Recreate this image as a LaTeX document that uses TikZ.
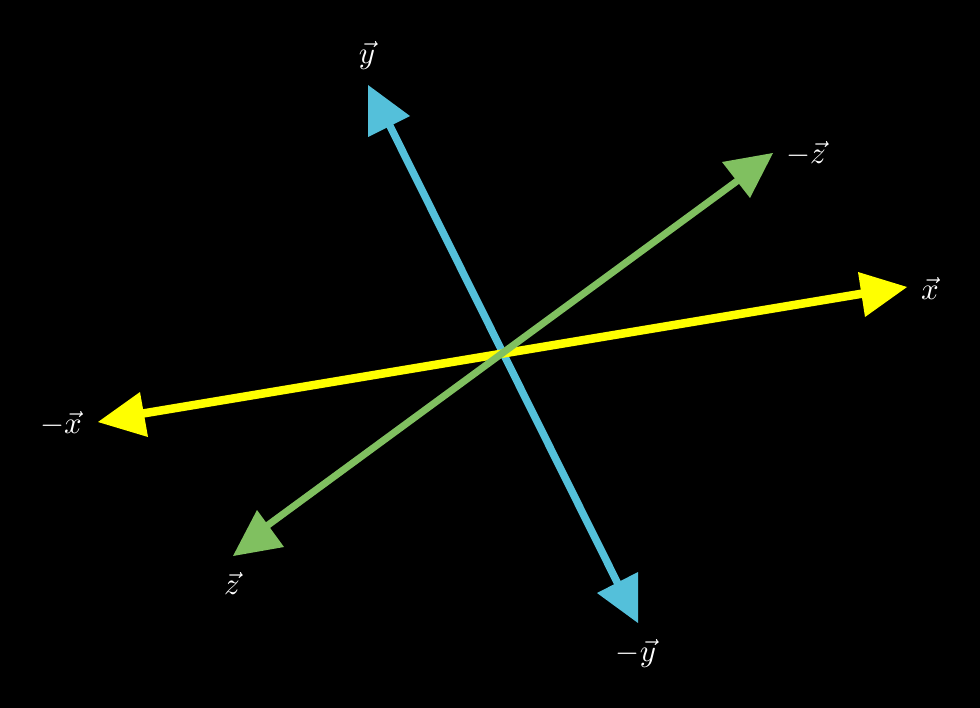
\documentclass[tikz,border=0pt]{standalone}
\definecolor{axyellow}{RGB}{255,255,0}
\definecolor{axblue}{RGB}{84,192,218}
\definecolor{axgreen}{RGB}{128,192,96}
\begin{document}
\begin{tikzpicture}[x=1bp,y=-1bp,
  axisline/.style={line width=#1},
  lbl/.style={text=white,inner sep=0pt,scale=3.1}]
\fill[black] (0,0) rectangle (980,708);
\useasboundingbox (0,0) rectangle (980,708);
\coordinate (O) at (502,354);
% line ends
\coordinate (xp) at (866,293);
\coordinate (xm) at (140,414);
\coordinate (yp) at (386,118);
\coordinate (ym) at (622,592);
\coordinate (zp) at (748,173);
\coordinate (zm) at (264,528);
% blue axis
\draw[axblue,axisline=7.5bp] (yp) -- (ym);
% yellow axis
\draw[axyellow,axisline=8.5bp] (xm) -- (xp);
% green axis
\draw[axgreen,axisline=7bp] (zm) -- (zp);
% arrowheads
\fill[axyellow] (858,272) -- (907,287) -- (865,317) -- cycle;
\fill[axyellow] (140,392) -- (98,422) -- (148,437) -- cycle;
\fill[axblue] (368,85) -- (410,116) -- (368,137) -- cycle;
\fill[axblue] (638,572) -- (597,593) -- (638,623) -- cycle;
\fill[axgreen] (722,162) -- (773,153) -- (750,198) -- cycle;
\fill[axgreen] (257,510) -- (284,547) -- (233,556) -- cycle;
% labels
\node[lbl] (lx) at (930,288) {$\vec{x}$};
\node[lbl] (lmx) at (61,424) {$-\vec{x}$};
\node[lbl] (ly) at (367,55) {$\vec{y}$};
\node[lbl] (lmy) at (636,653) {$-\vec{y}$};
\node[lbl] (lz) at (232,583) {$\vec{z}$};
\node[lbl] (lmz) at (806,154) {$-\vec{z}$};
\end{tikzpicture}
\end{document}
